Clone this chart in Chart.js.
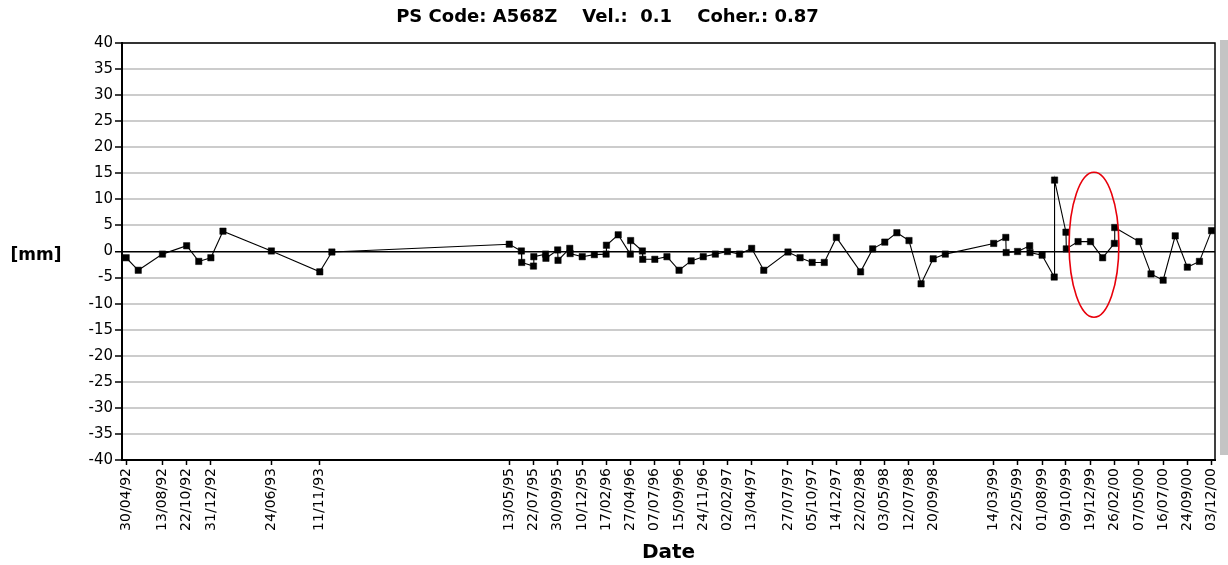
<!DOCTYPE html>
<html>
<head>
<meta charset="utf-8">
<script src="https://cdn.jsdelivr.net/npm/chart.js@4.4.1/dist/chart.umd.min.js"></script>
<style>
  html, body { margin: 0; padding: 0; background: #fff; }
</style>
</head>
<body>
<canvas id="ps" width="1228" height="565"></canvas>
<script>
// x-axis labels (acquisition dates shown on the axis)
const tickDates = ['30/04/92', '13/08/92', '22/10/92', '31/12/92', '24/06/93', '11/11/93',
  '13/05/95', '22/07/95', '30/09/95', '10/12/95', '17/02/96', '27/04/96', '07/07/96',
  '15/09/96', '24/11/96', '02/02/97', '13/04/97', '27/07/97', '05/10/97', '14/12/97',
  '22/02/98', '03/05/98', '12/07/98', '20/09/98', '14/03/99', '22/05/99', '01/08/99',
  '09/10/99', '19/12/99', '26/02/00', '07/05/00', '16/07/00', '24/09/00', '03/12/00'];

// measurement dates and displacement [mm]
const pointDates = ['30/04/92', '04/06/92', '13/08/92', '22/10/92', '26/11/92', '31/12/92',
  '04/02/93', '24/06/93', '11/11/93', '16/12/93', '13/05/95', '17/06/95', '18/06/95',
  '22/07/95', '23/07/95', '26/08/95', '27/08/95', '30/09/95', '01/10/95', '04/11/95',
  '05/11/95', '10/12/95', '14/01/96', '17/02/96', '18/02/96', '23/03/96', '27/04/96',
  '28/04/96', '01/06/96', '02/06/96', '07/07/96', '11/08/96', '15/09/96', '20/10/96',
  '24/11/96', '29/12/96', '02/02/97', '09/03/97', '13/04/97', '18/05/97', '27/07/97',
  '31/08/97', '05/10/97', '09/11/97', '14/12/97', '22/02/98', '29/03/98', '03/05/98',
  '07/06/98', '12/07/98', '16/08/98', '20/09/98', '25/10/98', '14/03/99', '18/04/99',
  '19/04/99', '22/05/99', '26/06/99', '27/06/99', '01/08/99', '05/09/99', '06/09/99',
  '09/10/99', '10/10/99', '13/11/99', '19/12/99', '23/01/00', '26/02/00', '27/02/00',
  '07/05/00', '11/06/00', '16/07/00', '20/08/00', '24/09/00', '29/10/00', '03/12/00'];

const displacement = [-1.2, -3.6, -0.5, 1.1, -1.9, -1.2,
  3.9, 0.1, -3.9, -0.1, 1.4, 0.1, -2.1,
  -2.8, -1.0, -0.5, -1.3, 0.3, -1.7, 0.6,
  -0.4, -1.0, -0.6, -0.5, 1.2, 3.2, -0.5,
  2.1, 0.1, -1.5, -1.5, -1.0, -3.6, -1.8,
  -1.0, -0.5, 0.0, -0.5, 0.6, -3.6, -0.1,
  -1.2, -2.1, -2.1, 2.7, -3.9, 0.5, 1.8,
  3.6, 2.1, -6.2, -1.4, -0.5, 1.55, 2.7,
  -0.2, 0.0, 1.1, -0.2, -0.7, -4.9, 13.7,
  3.7, 0.5, 1.9, 1.9, -1.2, 1.55, 4.6,
  1.9, -4.3, -5.5, 3.0, -3.0, -1.9, 4.0];

const yMin = -40, yMax = 40, yStep = 5;

// red ellipse highlight (centre date, centre value, half width in days, half height in mm)
const highlight = { date: '29/12/99', value: 1.3, halfDays: 72, halfMm: 13.9 };

const origin = Date.UTC(1992, 3, 30);
function toDay(s) {
  const [d, m, y] = s.split('/').map(Number);
  const year = y < 50 ? 2000 + y : 1900 + y;
  return Math.round((Date.UTC(year, m - 1, d) - origin) / 86400000);
}

const tickDays = tickDates.map(toDay);
const tickLabel = {};
tickDays.forEach((v, i) => { tickLabel[v] = tickDates[i]; });
const points = pointDates.map((s, i) => ({ x: toDay(s), y: displacement[i] }));

const extras = {
  id: 'extras',
  afterDatasetsDraw(chart) {
    const { ctx, chartArea: a, scales } = chart;
    ctx.save();
    // frame
    ctx.strokeStyle = '#000';
    ctx.lineWidth = 1.5;
    ctx.strokeRect(a.left, a.top, a.right - a.left, a.bottom - a.top);
    // gray strip on the right
    ctx.fillStyle = '#c4c4c4';
    ctx.fillRect(a.right + 5, a.top - 3, 8, a.bottom - a.top - 2);
    // highlight ellipse
    const cx = scales.x.getPixelForValue(toDay(highlight.date));
    const cy = scales.y.getPixelForValue(highlight.value);
    const rx = Math.abs(scales.x.getPixelForValue(toDay(highlight.date) + highlight.halfDays) - cx);
    const ry = Math.abs(scales.y.getPixelForValue(highlight.value + highlight.halfMm) - cy);
    ctx.beginPath();
    ctx.ellipse(cx, cy, rx, ry, 0, 0, Math.PI * 2);
    ctx.strokeStyle = '#e8000b';
    ctx.lineWidth = 1.6;
    ctx.stroke();
    // horizontal y title
    ctx.fillStyle = '#000';
    ctx.font = 'bold 17px "DejaVu Sans"';
    ctx.textAlign = 'center';
    ctx.textBaseline = 'middle';
    ctx.fillText('[mm]', 36, scales.y.getPixelForValue(0) + 4);
    ctx.restore();
  }
};

new Chart(document.getElementById('ps'), {
  type: 'line',
  data: {
    datasets: [{
      data: points,
      borderColor: '#000',
      borderWidth: 1.1,
      pointStyle: 'rect',
      pointRadius: 4.5,
      pointBackgroundColor: '#000',
      pointBorderColor: '#000',
      pointBorderWidth: 0.5,
      tension: 0
    }]
  },
  options: {
    responsive: false,
    animation: false,
    layout: { padding: { left: 0, right: 13, top: 0, bottom: 0 } },
    plugins: {
      legend: { display: false },
      tooltip: { enabled: false },
      title: {
        display: true,
        text: 'PS Code: A568Z    Vel.:  0.1    Coher.: 0.87',
        color: '#000',
        font: { family: 'DejaVu Sans', size: 18, weight: 'bold' },
        padding: { top: 7, bottom: 14.4 }
      }
    },
    scales: {
      x: {
        type: 'linear',
        min: -12,
        max: 3149,
        afterBuildTicks: s => { s.ticks = tickDays.map(v => ({ value: v })); },
        afterFit: s => { s.height = 105; s.paddingRight = 2; s.paddingLeft = 2; },
        ticks: {
          autoSkip: false,
          minRotation: 90,
          maxRotation: 90,
          padding: 3,
          color: '#000',
          font: { family: 'DejaVu Sans', size: 14 },
          callback: v => tickLabel[v] || ''
        },
        grid: { drawOnChartArea: false, tickLength: 5, tickColor: '#000', tickWidth: 1.5 },
        border: { color: '#000', width: 2 },
        title: {
          display: true,
          text: 'Date',
          color: '#000',
          font: { family: 'DejaVu Sans', size: 20, weight: 'bold' },
          padding: { top: 0, bottom: 0 }
        }
      },
      y: {
        min: yMin,
        max: yMax,
        afterFit: s => { s.width = 122; },
        ticks: {
          stepSize: yStep,
          padding: 2,
          color: '#000',
          font: { family: 'DejaVu Sans', size: 15 }
        },
        grid: {
          color: c => c.tick.value === 0 ? '#000' : '#cccccc',
          lineWidth: c => c.tick.value === 0 ? 1.5 : 2,
          tickColor: '#000',
          tickLength: 7,
          tickWidth: 1.5
        },
        border: { color: '#000', width: 2 }
      }
    }
  },
  plugins: [extras]
});
</script>
</body>
</html>
